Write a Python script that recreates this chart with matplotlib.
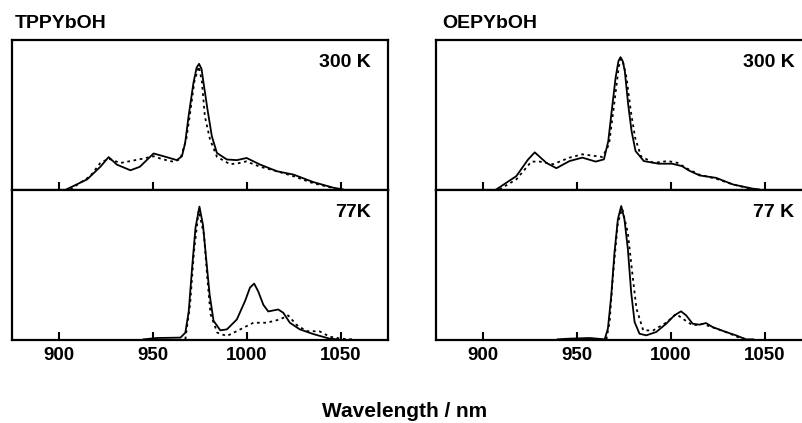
import numpy as np
import matplotlib.pyplot as plt

plt.rcParams['font.family'] = ['Liberation Sans', 'DejaVu Sans']
plt.rcParams['font.weight'] = 'bold'

# TPPYbOH 300 K
tpp300_wl = [904, 915, 922, 926.4, 930.8, 938, 943, 950.3, 955.6, 962.7, 965.4, 967.1, 968.9, 971.5,
             973.2, 974.5, 975.8, 976.9, 979.0, 981.3, 984, 989.3, 994.6, 999.8, 1006.9, 1016, 1024.7,
             1035.3, 1046, 1051]
tpp300_solid = [0, 0.08, 0.18, 0.257, 0.197, 0.152, 0.18, 0.286, 0.264, 0.233, 0.264, 0.37, 0.58, 0.847,
                0.97, 1.0, 0.96, 0.847, 0.635, 0.423, 0.29, 0.238, 0.233, 0.25, 0.198, 0.144, 0.118,
                0.058, 0.013, 0]
tpp300_dot_wl = [906, 916.6, 922, 926.4, 932.6, 943, 950.3, 955, 960.9, 964.5, 967.7, 969.5, 972, 974.4,
                 976, 977.6, 980.3, 984, 991, 996, 999.6, 1007, 1016, 1024.7, 1035, 1046]
tpp300_dot = [0, 0.105, 0.21, 0.245, 0.21, 0.24, 0.264, 0.24, 0.22, 0.24, 0.4, 0.58, 0.86, 0.98,
              0.86, 0.58, 0.40, 0.26, 0.2, 0.21, 0.223, 0.18, 0.144, 0.105, 0.05, 0.01]

# TPPYbOH 77 K
tpp77_wl = [945, 952, 964.6, 967.2, 969, 970.8, 972.6, 974.7, 976.6, 978.4, 980.1, 982.2, 985.8, 989.3,
            994.6, 999, 1001.6, 1003.8, 1006, 1008.7, 1011.3, 1016.6, 1019.3, 1022.8, 1028.1, 1035.2,
            1044, 1048]
tpp77_solid = [0, 0.01, 0.013, 0.05, 0.21, 0.54, 0.84, 1.0, 0.86, 0.59, 0.34, 0.14, 0.068, 0.075,
               0.15, 0.29, 0.39, 0.42, 0.36, 0.26, 0.21, 0.225, 0.2, 0.125, 0.075, 0.04,
               0.005, 0]
tpp77_dot_wl = [967.2, 969.7, 971.8, 974.3, 977.1, 978.9, 980.6, 984.2, 989.3, 996.4, 1003.4, 1010.5,
                1017.5, 1021.9, 1026.3, 1031.6, 1038.6, 1044, 1050, 1056]
tpp77_dot = [0, 0.26, 0.66, 0.97, 0.79, 0.46, 0.19, 0.05, 0.025, 0.075, 0.125, 0.125,
             0.15, 0.18, 0.11, 0.062, 0.06, 0.02, 0.005, 0]

# OEPYbOH 300 K
oep300_wl = [907.4, 918, 924.2, 927.8, 934, 939.3, 946.3, 953.1, 960.2, 964.6, 966.9, 968.7, 970.8,
             972.3, 973.4, 974.6, 975.7, 977.5, 979.3, 981.4, 985.8, 993.7, 1000.8, 1006.1, 1009.6,
             1015.5, 1024.3, 1033.2, 1043.8, 1047]
oep300_solid = [0, 0.1, 0.225, 0.28, 0.2, 0.16, 0.214, 0.24, 0.21, 0.227, 0.365, 0.59, 0.845,
                0.97, 1.0, 0.97, 0.894, 0.64, 0.44, 0.29, 0.214, 0.194, 0.194, 0.176, 0.144,
                0.105, 0.087, 0.037, 0.005, 0]
oep300_dot_wl = [909, 918, 926, 930.4, 937.5, 946.3, 953.1, 963.8, 967.3, 970, 972.5, 973.8, 975,
                 976.6, 978.9, 981.2, 984.3, 991, 998.6, 1003.9, 1008.4, 1015.5, 1024.3, 1033.2, 1043.8]
oep300_dot = [0, 0.075, 0.21, 0.21, 0.19, 0.24, 0.265, 0.245, 0.34, 0.64, 0.93, 0.99, 0.95,
              0.845, 0.59, 0.39, 0.25, 0.2, 0.214, 0.2, 0.16, 0.11, 0.08, 0.037, 0]

# OEPYbOH 77 K
oep77_wl = [940, 946, 957, 965, 966.7, 968.5, 970.2, 972, 973.8, 975.5, 977.3, 979.1, 980.9, 983.5,
            987.1, 992.4, 997.7, 1002.1, 1005.6, 1008.3, 1011.8, 1015.4, 1018.9, 1022.4, 1029.5,
            1034.8, 1040.1, 1044]
oep77_solid = [0, 0.005, 0.01, 0, 0.08, 0.33, 0.65, 0.9, 1.0, 0.9, 0.68, 0.35, 0.13, 0.042,
               0.03, 0.055, 0.117, 0.18, 0.21, 0.18, 0.117, 0.11, 0.122, 0.092, 0.055,
               0.03, 0, 0]
oep77_dot_wl = [965.9, 967.6, 969.4, 972, 974.3, 977.3, 979.8, 981.9, 985.5, 990.8, 997.7, 1003,
                1006.5, 1011.8, 1017.2, 1022.4, 1029.5, 1037, 1041]
oep77_dot = [0, 0.13, 0.48, 0.875, 0.98, 0.8, 0.48, 0.23, 0.067, 0.067, 0.125, 0.19,
             0.155, 0.105, 0.115, 0.09, 0.055, 0.01, 0]

xticks = [900, 950, 1000, 1050]

W, H = 802, 423
fig = plt.figure(figsize=(W / 100, H / 100), dpi=100)


def px_axes(x0, y_top, w, h):
    # pixel box -> figure fraction
    return fig.add_axes([x0 / W, 1 - (y_top + h) / H, w / W, h / H])


panels = [
    # x0, y_top, solid, dotted, ytop, label, show ticklabels
    (12, 40, (tpp300_wl, tpp300_solid), (tpp300_dot_wl, tpp300_dot), 1.19, '300 K', False),
    (12, 190, (tpp77_wl, tpp77_solid), (tpp77_dot_wl, tpp77_dot), 1.125, '77K', True),
    (435.5, 40, (oep300_wl, oep300_solid), (oep300_dot_wl, oep300_dot), 1.13, '300 K', False),
    (435.5, 190, (oep77_wl, oep77_solid), (oep77_dot_wl, oep77_dot), 1.12, '77 K', True),
]

for x0, yt, solid, dotted, ytop, label, showlab in panels:
    ax = px_axes(x0, yt, 376, 150)
    ax.plot(solid[0], solid[1], color='black', lw=1.3)
    ax.plot(dotted[0], dotted[1], color='black', lw=1.3, linestyle=(0, (1.5, 2)))
    ax.set_xlim(875, 1075)
    ax.set_ylim(-0.005, ytop)
    ax.set_yticks([])
    ax.set_xticks(xticks)
    ax.tick_params(axis='x', direction='in', length=6, width=1.5, pad=5,
                   labelsize=13.5, labelbottom=showlab)
    for lab in ax.get_xticklabels():
        lab.set_fontweight('bold')
    for s in ax.spines.values():
        s.set_linewidth(1.6)
    ax.text(0.955, 0.85, label, transform=ax.transAxes,
            ha='right', va='center', fontsize=14, fontweight='bold')

fig.text(15 / W, 1 - 23 / H, 'TPPYbOH', ha='left', va='center', fontsize=14, fontweight='bold')
fig.text(442 / W, 1 - 23 / H, 'OEPYbOH', ha='left', va='center', fontsize=14, fontweight='bold')
fig.text(405 / W, 1 - 411 / H, 'Wavelength / nm', ha='center', va='center',
         fontsize=15, fontweight='bold')

fig.savefig('out.png', dpi=100)
